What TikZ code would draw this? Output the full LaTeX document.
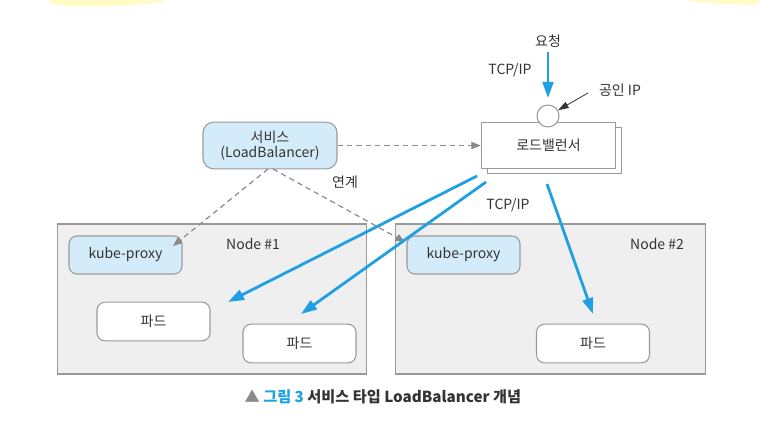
\documentclass[tikz,border=0pt]{standalone}
\usepackage{fontspec}
\setmainfont{Noto Sans CJK KR}
\usetikzlibrary{arrows.meta,calc}
\definecolor{nodefill}{HTML}{EFEFEF}
\definecolor{boxline}{HTML}{9A9A9A}
\definecolor{kpfill}{HTML}{D4ECF9}
\definecolor{bluearr}{HTML}{1FA0E2}
\definecolor{dashgray}{HTML}{8A8A8A}
\definecolor{txt}{HTML}{333333}
\definecolor{hilite}{HTML}{FFFBC4}
\begin{document}
\begin{tikzpicture}[x=0.75pt,y=-0.75pt,
  font=\fontsize{10.5pt}{12pt}\selectfont, text=txt,
  hostbox/.style={draw=boxline, line width=0.8pt, fill=nodefill, inner sep=0pt, minimum width=232pt, minimum height=112.5pt},
  kpbox/.style={draw=boxline, line width=0.8pt, fill=kpfill, rounded corners=6pt, inner sep=0pt, minimum width=84.75pt, minimum height=28.5pt},
  podbox/.style={draw=boxline, line width=0.8pt, fill=white, rounded corners=6pt, inner sep=0pt, minimum width=84.75pt, minimum height=29pt},
  lbbox/.style={draw=boxline, line width=0.8pt, fill=white, inner sep=0pt, minimum width=101pt, minimum height=35pt},
  blueline/.style={draw=bluearr, line width=2.1pt, -{Triangle[length=12pt,width=8pt]}},
  dashline/.style={draw=dashgray, line width=0.9pt, dash pattern=on 4pt off 3pt, -{Triangle[length=7pt,width=5.5pt]}},
  lbl/.style={inner sep=1pt}
]
\useasboundingbox (0,0) rectangle (780,424);
% top highlight remnants
\fill[hilite] (48,0) .. controls (52,6) and (70,7) .. (110,6) .. controls (140,5) and (160,3) .. (166,0) -- cycle;
\fill[hilite] (686,0) .. controls (700,3) and (730,4) .. (752,5) .. controls (758,4) and (760,2) .. (760,0) -- cycle;

% hosts
\node[hostbox] (host1) at (212,299) {};
\node[hostbox] (host2) at (550.5,299) {};
\node[lbl] (n1lbl) at (253,244) {Node \#1};
\node[lbl] (n2lbl) at (657,244) {Node \#2};

\node[kpbox] (kp1) at (125.5,255) {kube-proxy};
\node[kpbox] (kp2) at (463.5,255) {kube-proxy};
\node[podbox] (pod1) at (153.5,321.5) {파드};
\node[podbox] (pod2) at (299.5,343.5) {파드};
\node[podbox] (pod3) at (593,343.5) {파드};

% service
\node[draw=boxline, line width=0.8pt, fill=kpfill, rounded corners=8pt, inner sep=0pt,
      minimum width=100.5pt, minimum height=35pt, align=center] (svc) at (270,145.5)
      {서비스\\[-1pt](LoadBalancer)};

% load balancer with shadow
\node[lbbox] (lbshadow) at (554.5,150.5) {};
\node[lbbox] (lb) at (548.5,145.5) {로드밸런서};
\node[draw=boxline, line width=0.8pt, fill=white, circle, inner sep=0pt, minimum size=16.5pt] (pip) at (548,116) {};

% labels
\node[lbl] (req) at (548,41) {요청};
\node[lbl] (tcp1) at (510,70) {TCP/IP};
\node[lbl] (pubip) at (620,90) {공인 IP};
\node[lbl] (tcp2) at (508,205) {TCP/IP};
\node[lbl] (link) at (345,182) {연계};

% coordinates
\coordinate (s1) at (268,169);
\coordinate (s2) at (273,169);
\coordinate (e1) at (173,246);
\coordinate (e2) at (405,242);
\coordinate (b1s) at (477,176);
\coordinate (b2s) at (486,182);
\coordinate (b3s) at (547,184);
\coordinate (b1e) at (228,302);
\coordinate (b2e) at (301,314);
\coordinate (b3e) at (593,314);
\coordinate (rqs) at (548,52);
\coordinate (rqe) at (548,98);
\coordinate (ps) at (588,93);

% connectors
\draw[dashline] (svc.east) -- (lb.west);
\draw[dashline] (s1) -- (e1);
\draw[dashline] (s2) -- (e2);
\draw[blueline] (rqs) -- (rqe);
\draw[line width=0.6pt, draw=txt, -{Triangle[length=8pt,width=5pt]}] (ps) -- (pip.30);
\draw[blueline] (b1s) -- (b1e);
\draw[blueline] (b2s) -- (b2e);
\draw[blueline] (b3s) -- (b3e);

% caption
\node[lbl, anchor=west, font=\fontsize{11.4pt}{13pt}\selectfont\bfseries] (cap) at (243,397)
  {\textcolor{dashgray}{▲} \textcolor{bluearr}{그림 3} 서비스 타입 LoadBalancer 개념};
\end{tikzpicture}
\end{document}
